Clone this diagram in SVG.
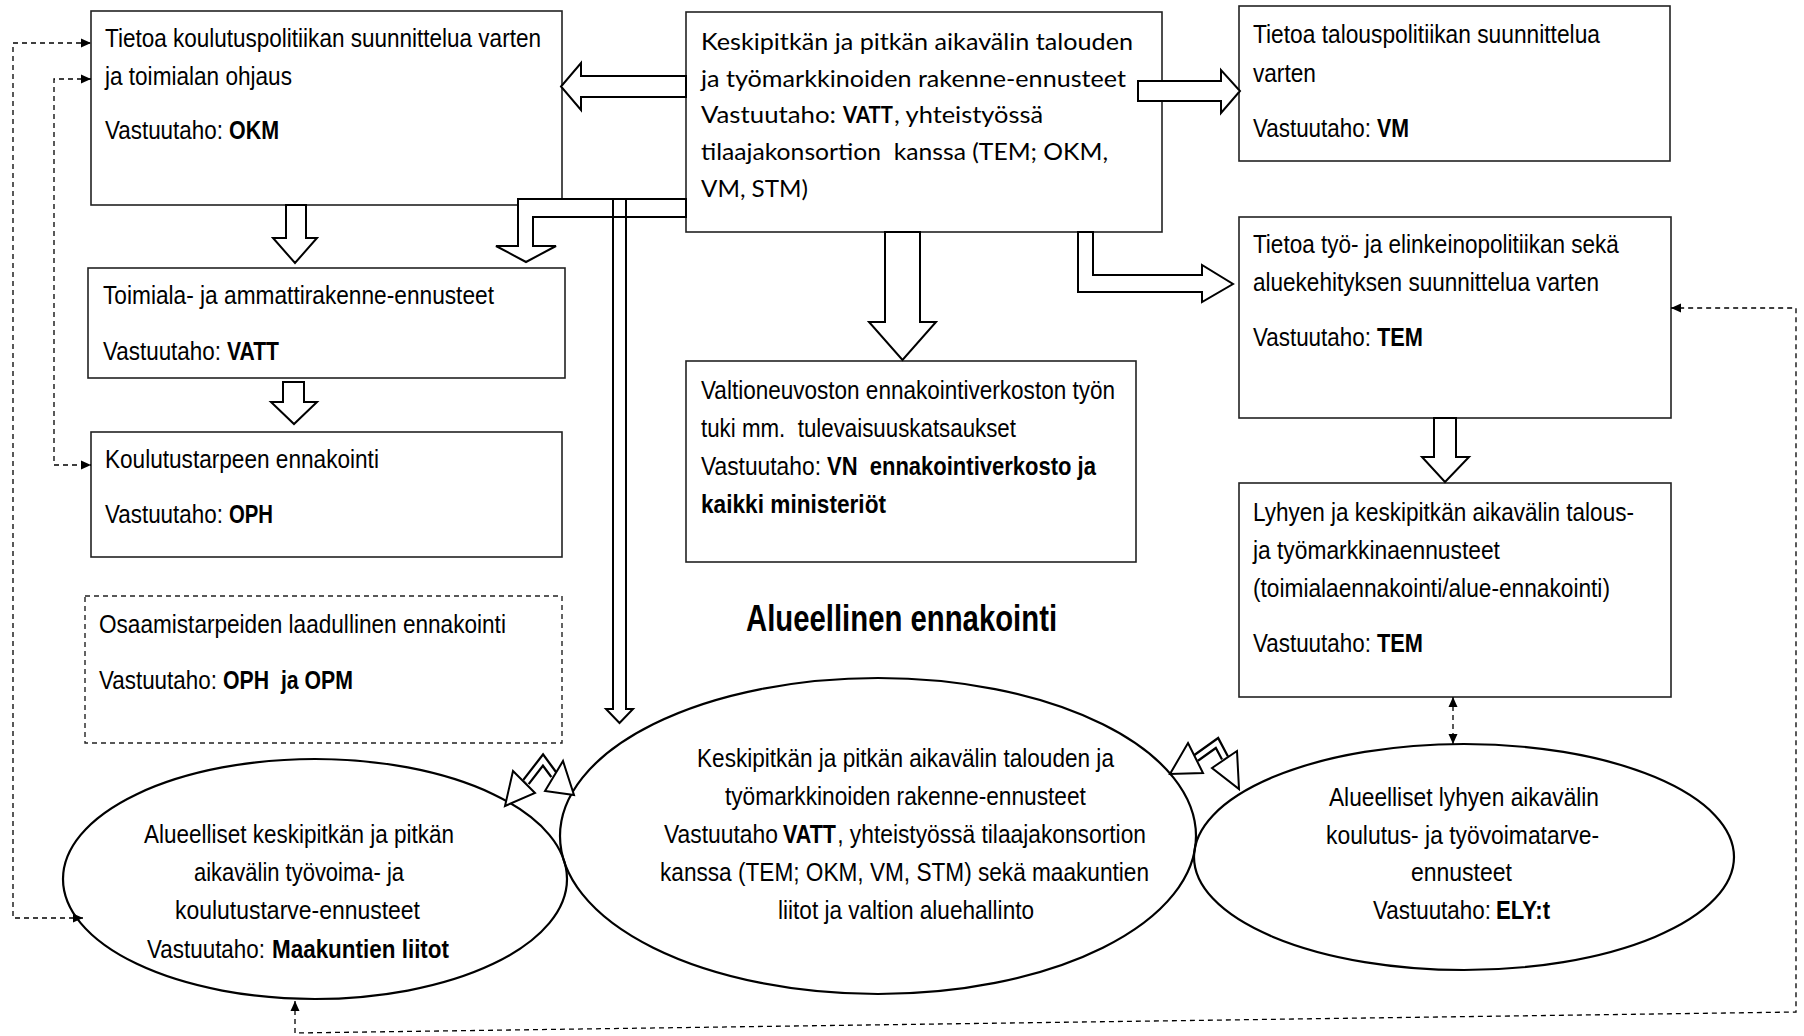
<svg xmlns="http://www.w3.org/2000/svg" width="1804" height="1036" viewBox="0 0 1804 1036">
<style>
.box{fill:#fff;stroke:#222;stroke-width:1.6}
.dbox{fill:#fff;stroke:#222;stroke-width:1.4;stroke-dasharray:5 4}
.ell{fill:none;stroke:#000;stroke-width:2.2}
.n{font-family:"Liberation Sans Narrow","Liberation Sans",Arial,sans-serif;font-size:25px;fill:#000}
.c{font-family:Lato,"Open Sans","Liberation Sans",sans-serif;font-size:23px;fill:#000}
.b{font-weight:bold}
.title{font-family:"Liberation Sans Narrow","Liberation Sans",Arial,sans-serif;font-size:37px;font-weight:bold;fill:#000}
.blk{fill:#fff;stroke:#000;stroke-width:2;stroke-linejoin:miter}
.blkn{fill:none;stroke:#000;stroke-width:2}
.dash{fill:none;stroke:#000;stroke-width:1.3;stroke-dasharray:5 4}
</style>
<defs>
<marker id="ah" viewBox="0 0 10 10" refX="10" refY="5" markerWidth="11" markerHeight="10" markerUnits="userSpaceOnUse" orient="auto-start-reverse">
<path d="M0,0.5 L10,5 L0,9.5 z" fill="#000"/>
</marker>
</defs>
<rect x="0" y="0" width="1804" height="1036" fill="#fff"/>

<g id="okm">
<rect class="box" x="91" y="11" width="471" height="194"/>
<text class="n" transform="scale(0.82 1)" x="128" y="47" textLength="531.7" lengthAdjust="spacingAndGlyphs">Tietoa koulutuspolitiikan suunnittelua varten</text>
<text class="n" transform="scale(0.82 1)" x="128" y="85" textLength="228" lengthAdjust="spacingAndGlyphs">ja toimialan ohjaus</text>
<text class="n" transform="scale(0.82 1)" x="128" y="139" textLength="143.9" lengthAdjust="spacingAndGlyphs">Vastuutaho:</text>
<text class="n b" transform="scale(0.82 1)" x="279.3" y="139" textLength="61" lengthAdjust="spacingAndGlyphs">OKM</text>
</g>

<g id="vatt-top">
<rect class="box" x="686" y="12" width="476" height="220"/>
<text class="c" x="701" y="50" textLength="432" lengthAdjust="spacingAndGlyphs">Keskipitkän ja pitkän aikavälin talouden</text>
<text class="c" x="701" y="87" textLength="425" lengthAdjust="spacingAndGlyphs">ja työmarkkinoiden rakenne-ennusteet</text>
<text class="c" x="701" y="123" textLength="135" lengthAdjust="spacingAndGlyphs">Vastuutaho:</text>
<text class="c b" x="843" y="123" textLength="50" lengthAdjust="spacingAndGlyphs">VATT</text>
<text class="c" x="894" y="123" textLength="149" lengthAdjust="spacingAndGlyphs">, yhteistyössä</text>
<text class="c" x="701" y="160" textLength="407" lengthAdjust="spacingAndGlyphs" xml:space="preserve">tilaajakonsortion  kanssa (TEM; OKM,</text>
<text class="c" x="701" y="197" textLength="107" lengthAdjust="spacingAndGlyphs">VM, STM)</text>
</g>

<g id="vm">
<rect class="box" x="1239" y="6" width="431" height="155"/>
<text class="n" transform="scale(0.82 1)" x="1528" y="43" textLength="423.2" lengthAdjust="spacingAndGlyphs">Tietoa talouspolitiikan suunnittelua</text>
<text class="n" transform="scale(0.82 1)" x="1528" y="82" textLength="76.8" lengthAdjust="spacingAndGlyphs">varten</text>
<text class="n" transform="scale(0.82 1)" x="1528" y="137" textLength="143.9" lengthAdjust="spacingAndGlyphs">Vastuutaho:</text>
<text class="n b" transform="scale(0.82 1)" x="1679.3" y="137" textLength="39" lengthAdjust="spacingAndGlyphs">VM</text>
</g>

<g id="tem">
<rect class="box" x="1239" y="217" width="432" height="201"/>
<text class="n" transform="scale(0.82 1)" x="1528" y="253" textLength="446.3" lengthAdjust="spacingAndGlyphs">Tietoa työ- ja elinkeinopolitiikan sekä</text>
<text class="n" transform="scale(0.82 1)" x="1528" y="291" textLength="422" lengthAdjust="spacingAndGlyphs">aluekehityksen suunnittelua varten</text>
<text class="n" transform="scale(0.82 1)" x="1528" y="346" textLength="143.9" lengthAdjust="spacingAndGlyphs">Vastuutaho:</text>
<text class="n b" transform="scale(0.82 1)" x="1679.3" y="346" textLength="56.1" lengthAdjust="spacingAndGlyphs">TEM</text>
</g>

<g id="toimiala">
<rect class="box" x="88" y="268" width="477" height="110"/>
<text class="n" transform="scale(0.82 1)" x="125.6" y="304" textLength="476.8" lengthAdjust="spacingAndGlyphs">Toimiala- ja ammattirakenne-ennusteet</text>
<text class="n" transform="scale(0.82 1)" x="125.6" y="360" textLength="143.9" lengthAdjust="spacingAndGlyphs">Vastuutaho:</text>
<text class="n b" transform="scale(0.82 1)" x="276.8" y="360" textLength="63.4" lengthAdjust="spacingAndGlyphs">VATT</text>
</g>

<g id="koulutustarve">
<rect class="box" x="91" y="432" width="471" height="125"/>
<text class="n" transform="scale(0.82 1)" x="128" y="468" textLength="334.1" lengthAdjust="spacingAndGlyphs">Koulutustarpeen ennakointi</text>
<text class="n" transform="scale(0.82 1)" x="128" y="523" textLength="143.9" lengthAdjust="spacingAndGlyphs">Vastuutaho:</text>
<text class="n b" transform="scale(0.82 1)" x="279.3" y="523" textLength="53.7" lengthAdjust="spacingAndGlyphs">OPH</text>
</g>

<g id="osaaminen">
<rect class="dbox" x="85" y="596" width="477" height="147"/>
<text class="n" transform="scale(0.82 1)" x="120.7" y="633" textLength="496.3" lengthAdjust="spacingAndGlyphs">Osaamistarpeiden laadullinen ennakointi</text>
<text class="n" transform="scale(0.82 1)" x="120.7" y="689" textLength="143.9" lengthAdjust="spacingAndGlyphs">Vastuutaho:</text>
<text class="n b" transform="scale(0.82 1)" x="272" y="689" textLength="158.5" lengthAdjust="spacingAndGlyphs" xml:space="preserve">OPH  ja OPM</text>
</g>

<g id="vn">
<rect class="box" x="686" y="361" width="450" height="201"/>
<text class="n" transform="scale(0.82 1)" x="854.9" y="399" textLength="504.9" lengthAdjust="spacingAndGlyphs">Valtioneuvoston ennakointiverkoston työn</text>
<text class="n" transform="scale(0.82 1)" x="854.9" y="437" textLength="384.1" lengthAdjust="spacingAndGlyphs" xml:space="preserve">tuki mm.  tulevaisuuskatsaukset</text>
<text class="n" transform="scale(0.82 1)" x="854.9" y="475" textLength="146.3" lengthAdjust="spacingAndGlyphs">Vastuutaho:</text>
<text class="n b" transform="scale(0.82 1)" x="1008.5" y="475" textLength="328" lengthAdjust="spacingAndGlyphs" xml:space="preserve">VN  ennakointiverkosto ja</text>
<text class="n b" transform="scale(0.82 1)" x="854.9" y="513" textLength="225.6" lengthAdjust="spacingAndGlyphs">kaikki ministeriöt</text>
</g>

<g id="lyhyen">
<rect class="box" x="1239" y="483" width="432" height="214"/>
<text class="n" transform="scale(0.82 1)" x="1528" y="521" textLength="464.6" lengthAdjust="spacingAndGlyphs">Lyhyen ja keskipitkän aikavälin talous-</text>
<text class="n" transform="scale(0.82 1)" x="1528" y="559" textLength="301.2" lengthAdjust="spacingAndGlyphs">ja työmarkkinaennusteet</text>
<text class="n" transform="scale(0.82 1)" x="1528" y="597" textLength="435.4" lengthAdjust="spacingAndGlyphs">(toimialaennakointi/alue-ennakointi)</text>
<text class="n" transform="scale(0.82 1)" x="1528" y="652" textLength="143.9" lengthAdjust="spacingAndGlyphs">Vastuutaho:</text>
<text class="n b" transform="scale(0.82 1)" x="1679.3" y="652" textLength="56.1" lengthAdjust="spacingAndGlyphs">TEM</text>
</g>

<g id="title">
<text class="title" transform="scale(0.82 1)" x="909.8" y="631" textLength="379.3" lengthAdjust="spacingAndGlyphs">Alueellinen ennakointi</text>
</g>

<g id="maakunnat">
<ellipse class="ell" cx="315" cy="879" rx="252" ry="120"/>
<text class="n" transform="scale(0.82 1)" x="175.6" y="843" textLength="378" lengthAdjust="spacingAndGlyphs">Alueelliset keskipitkän ja pitkän</text>
<text class="n" transform="scale(0.82 1)" x="236.6" y="881" textLength="256.1" lengthAdjust="spacingAndGlyphs">aikavälin työvoima- ja</text>
<text class="n" transform="scale(0.82 1)" x="213.4" y="919" textLength="298.8" lengthAdjust="spacingAndGlyphs">koulutustarve-ennusteet</text>
<text class="n" transform="scale(0.82 1)" x="179.3" y="958" textLength="143.9" lengthAdjust="spacingAndGlyphs">Vastuutaho:</text>
<text class="n b" transform="scale(0.82 1)" x="331.7" y="958" textLength="215.9" lengthAdjust="spacingAndGlyphs">Maakuntien liitot</text>
</g>

<g id="vatt-alue">
<ellipse class="ell" cx="878" cy="836" rx="318" ry="158"/>
<text class="n" transform="scale(0.82 1)" x="850" y="767" textLength="508.5" lengthAdjust="spacingAndGlyphs">Keskipitkän ja pitkän aikavälin talouden ja</text>
<text class="n" transform="scale(0.82 1)" x="884.1" y="805" textLength="440.2" lengthAdjust="spacingAndGlyphs">työmarkkinoiden rakenne-ennusteet</text>
<text class="n" transform="scale(0.82 1)" x="809.8" y="843" textLength="139" lengthAdjust="spacingAndGlyphs">Vastuutaho</text>
<text class="n b" transform="scale(0.82 1)" x="954.9" y="843" textLength="64.6" lengthAdjust="spacingAndGlyphs">VATT</text>
<text class="n" transform="scale(0.82 1)" x="1021" y="843" textLength="376.5" lengthAdjust="spacingAndGlyphs">, yhteistyössä tilaajakonsortion</text>
<text class="n" transform="scale(0.82 1)" x="804.9" y="881" textLength="596.3" lengthAdjust="spacingAndGlyphs">kanssa (TEM; OKM, VM, STM) sekä maakuntien</text>
<text class="n" transform="scale(0.82 1)" x="948.8" y="919" textLength="312.2" lengthAdjust="spacingAndGlyphs">liitot ja valtion aluehallinto</text>
</g>

<g id="ely">
<ellipse class="ell" cx="1464" cy="857" rx="270" ry="113"/>
<text class="n" transform="scale(0.82 1)" x="1620.7" y="806" textLength="329.3" lengthAdjust="spacingAndGlyphs">Alueelliset lyhyen aikavälin</text>
<text class="n" transform="scale(0.82 1)" x="1617.1" y="844" textLength="332.9" lengthAdjust="spacingAndGlyphs">koulutus- ja työvoimatarve-</text>
<text class="n" transform="scale(0.82 1)" x="1720.7" y="881" textLength="123.2" lengthAdjust="spacingAndGlyphs">ennusteet</text>
<text class="n" transform="scale(0.82 1)" x="1674.4" y="919" textLength="143.9" lengthAdjust="spacingAndGlyphs">Vastuutaho:</text>
<text class="n b" transform="scale(0.82 1)" x="1824.4" y="919" textLength="65.9" lengthAdjust="spacingAndGlyphs">ELY:t</text>
</g>

<g id="connectors">
<polygon class="blk" points="686,76 581,76 581,63 561,86.5 581,110 581,97 686,97"/>
<polygon class="blk" points="1138,81 1221,81 1221,70 1240,91 1221,113 1221,101 1138,101"/>
<polygon class="blk" points="885,232 885,322 869,322 902.5,360 936,322 920,322 920,232"/>
<polygon class="blk" points="1078,232 1078,292 1202,292 1202,302 1233,284 1202,265 1202,275 1093,275 1093,232"/>
<polygon class="blk" points="686,199 518,199 518,246 496,246 526,262 556,246 533,246 533,217 686,217"/>
<polygon class="blkn" points="613,199 613,709 606,709 619.5,723 633,709 626,709 626,199"/>
<polygon class="blk" points="286,205 286,238 273,238 295,263 317,238 306,238 306,205"/>
<polygon class="blk" points="283,382 283,402 271,402 294,424 317,402 304,402 304,382"/>
<polygon class="blk" points="1434,418 1434,457 1422,457 1445,482 1469,457 1456,457 1456,418"/>

<polyline points="526,782 543,760 554,775" fill="none" stroke="#000" stroke-width="9" stroke-linejoin="miter"/>
<polyline points="526,782 543,760 554,775" fill="none" stroke="#fff" stroke-width="4.5" stroke-linejoin="miter"/>
<polygon class="blk" points="513,771 535,793 505,806"/>
<polygon class="blk" points="545,791 563,761 574,795"/>

<polyline points="1196,758 1217,743 1225,758" fill="none" stroke="#000" stroke-width="9" stroke-linejoin="miter"/>
<polyline points="1196,758 1217,743 1225,758" fill="none" stroke="#fff" stroke-width="4.5" stroke-linejoin="miter"/>
<polygon class="blk" points="1188,743 1203,773 1170,774"/>
<polygon class="blk" points="1212,768 1237,751 1239,789"/>

<path class="dash" d="M83,918 H13 V43 H91" marker-start="url(#ah)" marker-end="url(#ah)"/>
<path class="dash" d="M91,79 H54 V465 H91" marker-start="url(#ah)" marker-end="url(#ah)"/>
<path class="dash" d="M295,1001 V1033 L1796,1012 V308 H1671" marker-start="url(#ah)" marker-end="url(#ah)"/>
<path class="dash" d="M1453,697 V744" marker-start="url(#ah)" marker-end="url(#ah)"/>
</g>
</svg>
